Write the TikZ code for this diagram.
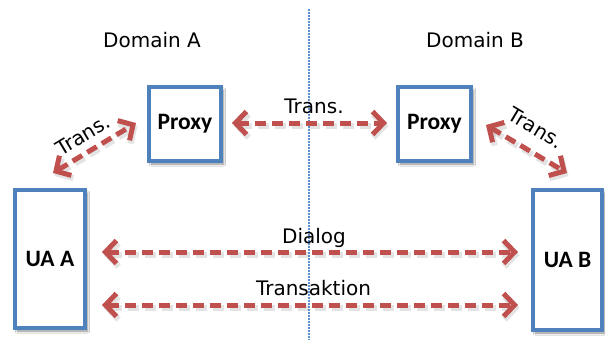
\documentclass[tikz,border=0pt]{standalone}
\usepackage{fontspec}
\setmainfont{DejaVu Sans}
\newfontfamily\calfont{Carlito}
\usetikzlibrary{arrows.meta,calc,shadows.blur}
\definecolor{boxblue}{HTML}{4F81BD}
\definecolor{arrred}{HTML}{C0504D}
\definecolor{dotblue}{HTML}{5B8FD0}
\tikzset{
  entity/.style={draw=boxblue, line width=4pt, fill=white, inner sep=0pt,
    font=\calfont\bfseries\fontsize{23.5}{25}\selectfont,
    blur shadow={shadow blur steps=6, shadow xshift=2.5pt, shadow yshift=-3pt, shadow opacity=45}},
  msg/.style={draw=arrred, line width=5pt, dash pattern=on 11pt off 6pt,
    {Straight Barb[length=11pt,width=23pt]}-{Straight Barb[length=11pt,width=23pt]},
    preaction={draw=black!60, opacity=0.18, line width=6pt, dash pattern=on 11pt off 6pt,
      transform canvas={shift={(1.5pt,-3pt)}}}},
  lbl/.style={font=\fontsize{20}{22}\selectfont, inner sep=0pt},
  divider/.style={draw=dotblue, line width=1.3pt, dash pattern=on 1.6pt off 1.4pt}
}
\begin{document}
\begin{tikzpicture}[x=1pt,y=-1pt]
\useasboundingbox[fill=white] (0,0) rectangle (605,340);
\draw[divider] (309,9) -- (309,340);
% nodes
\node[entity, minimum width=70pt, minimum height=138pt] (uaA) at (50,259) {UA A};
\node[entity, minimum width=69pt, minimum height=140pt] (uaB) at (567.5,260) {UA B};
\node[entity, minimum width=72pt, minimum height=74pt] (pA) at (185,124) {Proxy};
\node[entity, minimum width=73pt, minimum height=74pt] (pB) at (434.5,124) {Proxy};
% domain labels
\node[lbl, anchor=base] (domA) at (152,47) {Domain A};
\node[lbl, anchor=base] (domB) at (475,47) {Domain B};
% helper rows
\coordinate (dl) at (0,252);
\coordinate (tl) at (0,305);
% connectors
\draw[msg] ($(pA.east)+(9,-1)$) -- ($(pB.west)+(-9,-1)$);
\draw[msg] ($(uaA.north)+(3,-15)$) -- ($(pA.west)+(-11,-1)$);
\draw[msg] ($(pB.east)+(13,1)$) -- ($(uaB.north)+(-0.5,-15)$);
\draw[msg] ($(uaA.east |- dl)+(15,0)$) -- ($(uaB.west |- dl)+(-13,0)$);
\draw[msg] ($(uaA.east |- tl)+(15,0)$) -- ($(uaB.west |- tl)+(-13,0)$);
% connector labels
\node[lbl, anchor=base] (tP) at (314,113) {Trans.};
\node[lbl, anchor=base] (tD) at (314,243) {Dialog};
\node[lbl, anchor=base] (tT) at (313.5,295) {Transaktion};
\node[lbl, rotate=31] (tL) at (83,135) {Trans.};
\node[lbl, rotate=-31] (tR) at (536,128) {Trans.};
\end{tikzpicture}
\end{document}
